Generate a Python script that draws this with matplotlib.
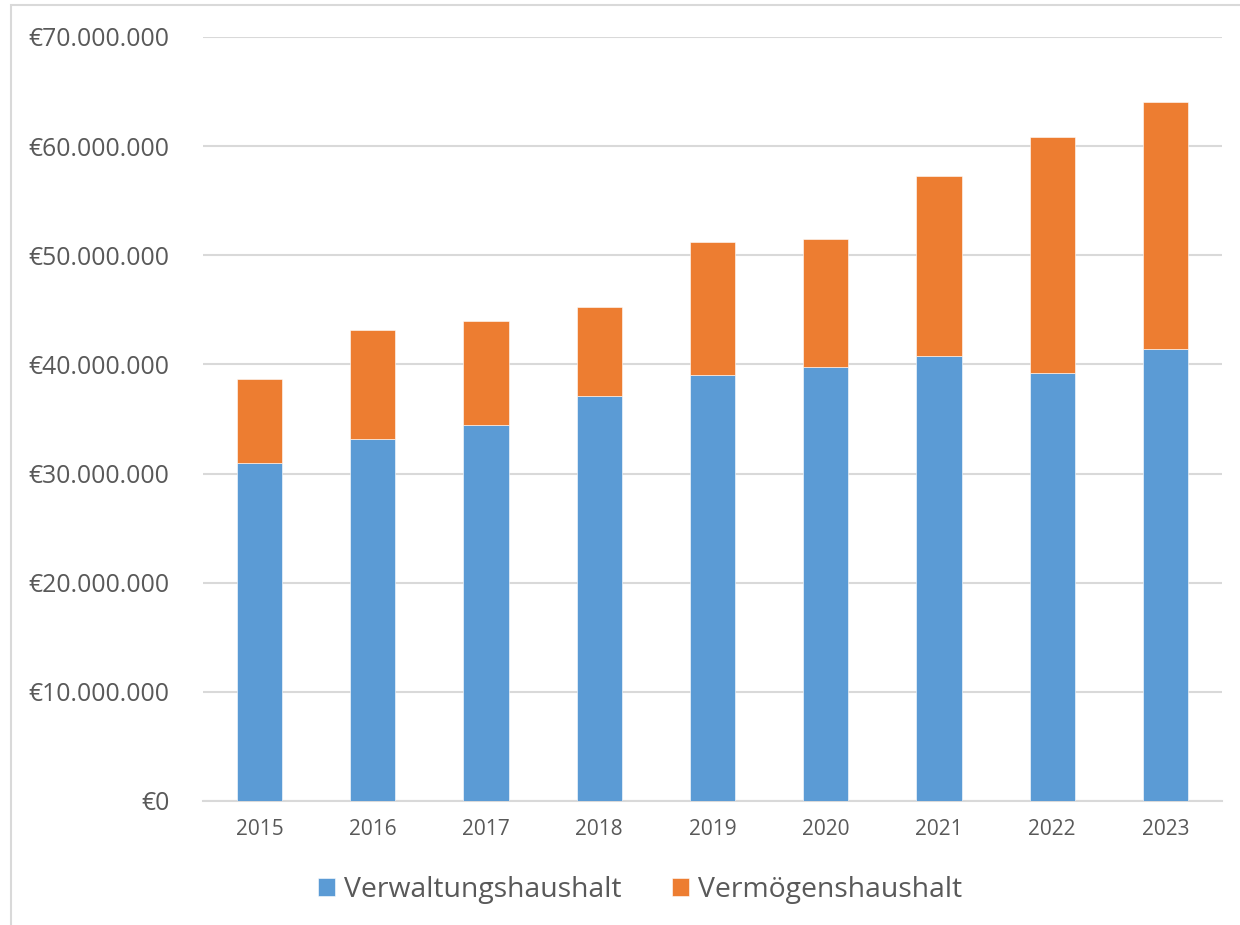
import matplotlib
matplotlib.use("Agg")
import matplotlib.pyplot as plt
from matplotlib.ticker import FuncFormatter, MultipleLocator
from matplotlib.patches import Rectangle

years = ["2015", "2016", "2017", "2018", "2019", "2020", "2021", "2022", "2023"]
verwaltung = [30.96e6, 33.13e6, 34.45e6, 37.14e6, 39.05e6, 39.76e6, 40.74e6, 39.24e6, 41.38e6]
vermoegen = [7.71e6, 10.07e6, 9.50e6, 8.12e6, 12.14e6, 11.76e6, 16.55e6, 21.63e6, 22.69e6]
series_names = ["Verwaltungshaushalt", "Vermögenshaushalt"]

BLUE = "#5B9BD5"
ORANGE = "#ED7D31"
GRID = "#D9D9D9"
TXT = "#595959"

plt.rcParams["font.family"] = ["Open Sans", "DejaVu Sans"]

fig = plt.figure(figsize=(12.4, 9.25), dpi=100)
ax = fig.add_axes([203/1240, 1 - 801/925, (1222-203)/1240, (801-37)/925])

x = list(range(len(years)))
ax.bar(x, verwaltung, width=0.4, color=BLUE, edgecolor="white", linewidth=0.4,
       label=series_names[0], zorder=3)
ax.bar(x, vermoegen, width=0.4, bottom=verwaltung, color=ORANGE, edgecolor="white",
       linewidth=0.4, label=series_names[1], zorder=3)

ax.set_xlim(-0.5, len(years) - 0.5)
ax.set_ylim(0, 70e6)
ax.yaxis.set_major_locator(MultipleLocator(10e6))
ax.yaxis.set_major_formatter(FuncFormatter(lambda v, p: "€" + f"{v:,.0f}".replace(",", ".")))
ax.set_xticks(x)
ax.set_xticklabels(years)

ax.grid(axis="y", color=GRID, linewidth=1.5, zorder=0)
ax.set_axisbelow(True)
for s in ["top", "right", "left"]:
    ax.spines[s].set_visible(False)
ax.spines["bottom"].set_color(GRID)
ax.spines["bottom"].set_linewidth(1.5)
ax.tick_params(axis="both", length=0)
ax.tick_params(axis="y", labelsize=17.8, labelcolor=TXT, pad=24)
ax.tick_params(axis="x", labelsize=15, labelcolor=TXT, pad=13)

leg = fig.legend(loc="center", bbox_to_anchor=(640/1240, 1 - 890/925), ncol=2, frameon=False,
                 fontsize=20.4, handlelength=0.6, handleheight=0.6, handletextpad=0.32,
                 columnspacing=1.8, labelcolor=TXT)

# chart frame
fig.patches.append(Rectangle((11/1240, -0.05), 1.2, 1 - 5/925 + 0.05, transform=fig.transFigure,
                             fill=False, edgecolor=GRID, linewidth=1.5, zorder=0))

fig.savefig("out.png", dpi=100)
